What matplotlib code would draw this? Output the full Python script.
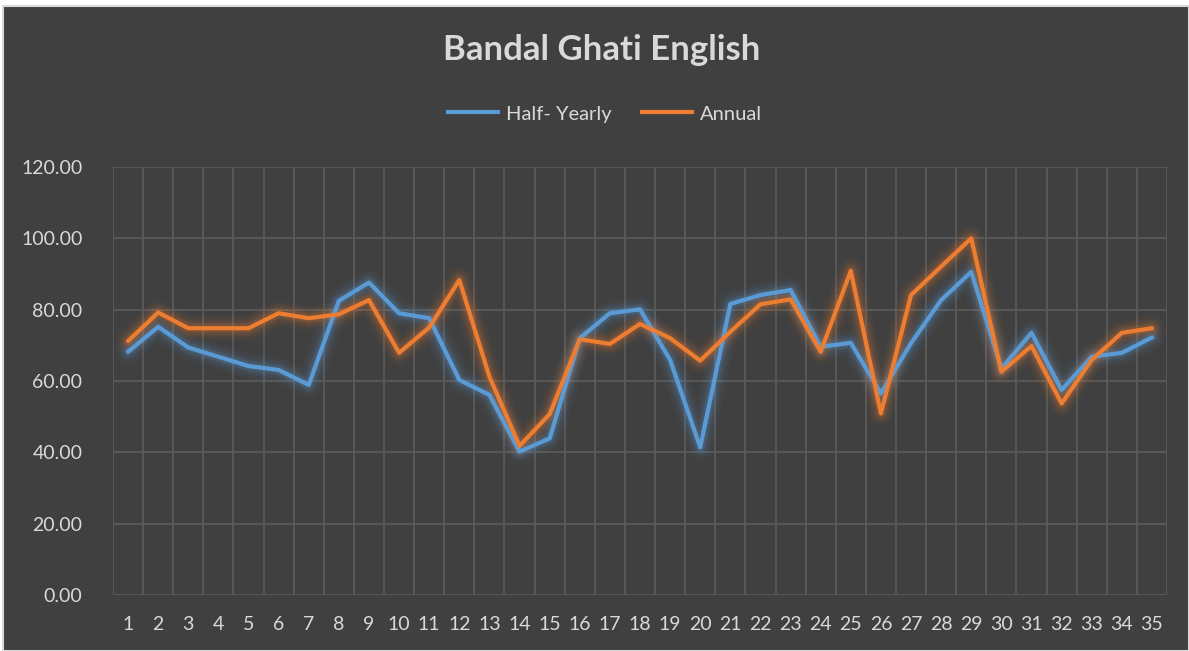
import matplotlib
matplotlib.use("Agg")
import matplotlib.pyplot as plt
from matplotlib.patches import Rectangle
from matplotlib.lines import Line2D

categories = list(range(1, 36))
half_yearly = [68.2, 75.2, 69.4, 66.8, 64.2, 63.1, 58.9, 82.5, 87.6, 79.0,
               77.6, 60.3, 56.1, 40.2, 43.9, 72.0, 79.0, 80.1, 65.9, 41.4,
               81.6, 84.1, 85.5, 69.6, 70.7, 56.5, 70.6, 82.7, 90.6, 63.5,
               73.5, 57.5, 66.8, 67.9, 72.2]
annual = [71.2, 79.2, 74.8, 74.8, 74.8, 79.0, 77.6, 78.7, 82.7, 67.9,
          75.0, 88.3, 61.2, 41.8, 50.7, 71.7, 70.4, 76.0, 72.0, 65.7,
          73.8, 81.5, 82.9, 68.2, 90.9, 50.9, 84.1, 92.1, 100.0, 62.6,
          69.8, 53.7, 65.9, 73.5, 74.8]
yticks = [0, 20, 40, 60, 80, 100, 120]

BG = "#404040"
TXT = "#d9d9d9"
GRID = "#5a5a5a"
BLUE = "#5b9bd5"
ORANGE = "#ed7d31"

plt.rcParams['font.family'] = ['Lato', 'DejaVu Sans']

fig = plt.figure(figsize=(11.89, 6.51), dpi=100)
fig.patch.set_facecolor("white")
bg = Rectangle((3/1189, 0), 1 - 3/1189, 1 - 6/651, transform=fig.transFigure,
               facecolor=BG, edgecolor="#d9d9d9", linewidth=1.5, zorder=-10)
fig.patches.append(bg)

ax = fig.add_axes([113/1189, 1 - 595/651, (1167 - 113)/1189, (595 - 167)/651])
ax.set_facecolor(BG)
ax.patch.set_alpha(0)

x = categories
for y, c in [(half_yearly, BLUE), (annual, ORANGE)]:
    for lw, a in [(18, 0.04), (14, 0.05), (11, 0.07), (8, 0.09), (6, 0.12)]:
        ax.plot(x, y, color=c, lw=lw, alpha=a, solid_capstyle='round', solid_joinstyle='round', zorder=2)
for y, c, lab in [(half_yearly, BLUE, "Half- Yearly"), (annual, ORANGE, "Annual")]:
    ax.plot(x, y, color=c, lw=3.0, solid_capstyle='round', solid_joinstyle='round', zorder=3, label=lab)

ax.set_xlim(0.5, 35.5)
ax.set_ylim(0, 120)
ax.set_yticks(yticks)
ax.set_yticklabels([f"{v:.2f}" for v in yticks])
ax.set_xticks(categories)
ax.set_xticklabels([str(c) for c in categories])
ax.grid(False)
for v in yticks:
    ax.axhline(v, color=GRID, lw=1.3, zorder=1)
for i in range(0, 36):
    ax.axvline(i + 0.5, color=GRID, lw=1.3, zorder=1)

for s in ax.spines.values():
    s.set_visible(False)
ax.tick_params(axis='both', which='both', length=0, colors=TXT, labelsize=14)
ax.tick_params(axis='y', pad=22)
ax.tick_params(axis='x', pad=15)

fig.text(602/1189, 1 - 50/651, "Bandal Ghati English", ha='center', va='center',
         color=TXT, fontsize=25, fontweight='bold')

handles = [Line2D([], [], color=BLUE, lw=3.0), Line2D([], [], color=ORANGE, lw=3.0)]
leg = fig.legend(handles, ["Half- Yearly", "Annual"], loc='center', bbox_to_anchor=(605/1189, 1 - 114/651),
                 ncol=2, frameon=False, fontsize=14.5, labelcolor=TXT, handlelength=2.5,
                 handletextpad=0.4, columnspacing=1.5)

fig.savefig("out.png", dpi=100, facecolor=fig.get_facecolor())
